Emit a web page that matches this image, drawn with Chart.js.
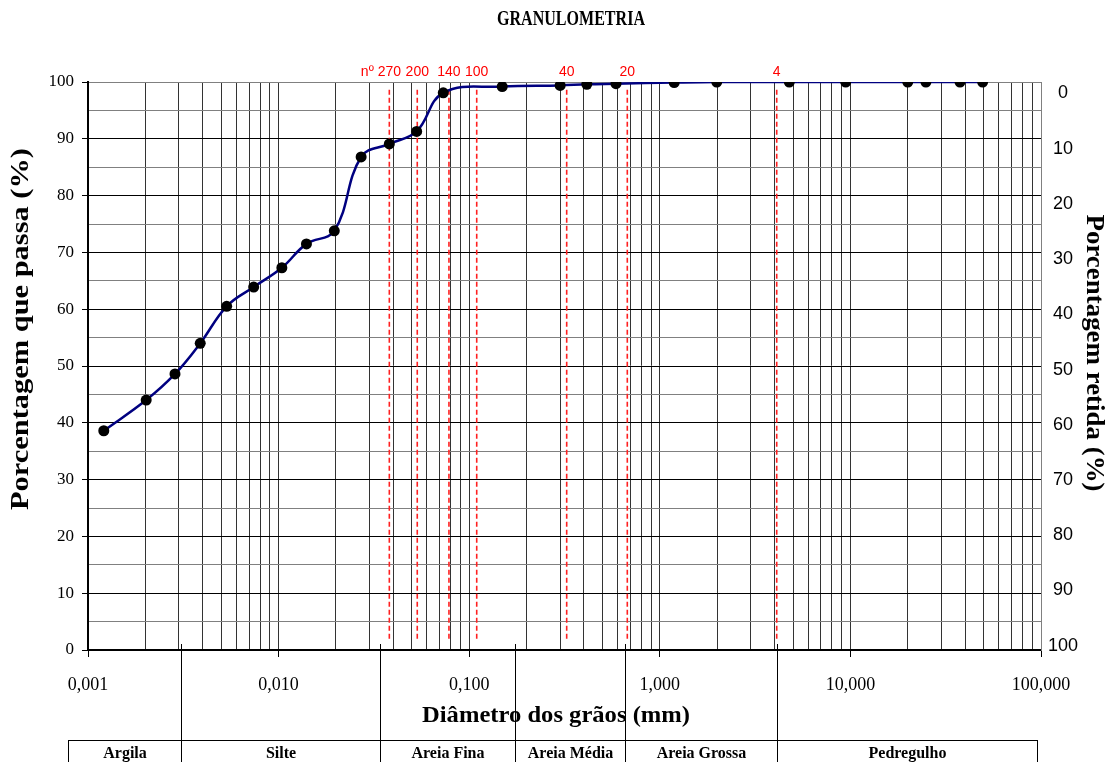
<!DOCTYPE html>
<html>
<head>
<meta charset="utf-8">
<title>Granulometria</title>
<script src="https://cdn.jsdelivr.net/npm/chart.js@4"></script>
<style>
  body { margin: 0; background: #fff; }
  canvas { display: block; }
</style>
</head>
<body>
<canvas id="chart" width="1110" height="762"></canvas>
<script>
// curva granulométrica (diâmetro em mm x % que passa)
const diametros = [0.00121, 0.00202, 0.00286, 0.00388, 0.00534, 0.0074, 0.0104, 0.0140, 0.0196,
  0.0271, 0.0381, 0.0530, 0.0731, 0.149, 0.300, 0.414, 0.589, 1.19, 1.99, 4.78, 9.45, 20.0, 24.9, 37.6, 49.4];
const passante = [38.6, 44.0, 48.6, 54.0, 60.5, 63.9, 67.3, 71.5, 73.8,
  86.8, 89.1, 91.3, 98.1, 99.2, 99.4, 99.6, 99.7, 99.9, 100, 100, 100, 100, 100, 100, 100];

// peneiras (linhas tracejadas)
const peneiras = ['nº 270', '200', '140', '100', '40', '20', '4'];
const aberturas = [0.0381, 0.0534, 0.0783, 0.1095, 0.3247, 0.6753, 4.106];

// faixas de classificação
const fracoes = ['Argila', 'Silte', 'Areia Fina', 'Areia Média', 'Areia Grossa', 'Pedregulho'];
const limitesFracoes = [0.00079, 0.00308, 0.0340, 0.174, 0.657, 4.12, 95.3];

const decadas = [0.001, 0.01, 0.1, 1, 10, 100];
const retidaTicks = [0, 10, 20, 30, 40, 50, 60, 70, 80, 90, 100];

const SERIF = '"Liberation Serif", "Times New Roman", serif';
const SANS = '"Liberation Sans", Arial, sans-serif';

// marcas do eixo x: 1..9 de cada década
const marcasX = [];
decadas.slice(0, -1).forEach(d => {
  for (let m = 1; m <= 9; m++) marcasX.push(+(m * d).toPrecision(3));
});
marcasX.push(100);

const ehDecada = v => Math.abs(Math.log10(v) - Math.round(Math.log10(v))) < 1e-9;
const fmt = v => v.toFixed(3).replace('.', ',');

function texto(ctx, str, x, y, font, comprimento, rot) {
  ctx.save();
  ctx.font = font;
  ctx.translate(x, y);
  ctx.rotate(rot || 0);
  if (comprimento) ctx.scale(comprimento / ctx.measureText(str).width, 1);
  ctx.textAlign = 'center';
  ctx.textBaseline = 'middle';
  ctx.fillStyle = '#000';
  ctx.fillText(str, 0, 0);
  ctx.restore();
}

const extras = {
  id: 'extras',
  beforeDraw(chart) {
    const ctx = chart.ctx;
    ctx.save();
    ctx.fillStyle = '#fff';
    ctx.fillRect(0, 0, chart.width, chart.height);
    ctx.restore();
  },
  afterDraw(chart) {
    const ctx = chart.ctx;
    const x = chart.scales.x;

    // rótulos das peneiras
    ctx.save();
    ctx.font = '14px ' + SANS;
    ctx.fillStyle = '#ff0000';
    ctx.textAlign = 'right';
    ctx.textBaseline = 'middle';
    peneiras.forEach((p, i) => {
      const num = p.split(' ').pop();
      const px = x.getPixelForValue(aberturas[i]) + ctx.measureText(num).width / 2;
      ctx.fillText(p, px, 72);
    });
    ctx.restore();

    // títulos
    texto(ctx, 'GRANULOMETRIA', 571, 19, 'bold 22px ' + SERIF, 148);
    texto(ctx, 'Diâmetro dos grãos (mm)', 556, 716, 'bold 24px ' + SERIF, 268);
    texto(ctx, 'Porcentagem que passa (%)', 21, 329, 'bold 26px ' + SERIF, 362, -Math.PI / 2);
    texto(ctx, 'Porcentagem retida (%)', 1093, 353, 'bold 25px ' + SERIF, 277, Math.PI / 2);

    // tabela de frações
    const px = limitesFracoes.map(v => Math.round(x.getPixelForValue(v)) + 0.5);
    fracoes.forEach((f, i) => {
      texto(ctx, f, (px[i] + px[i + 1]) / 2, 754, 'bold 16px ' + SERIF);
    });
    ctx.save();
    ctx.strokeStyle = '#000';
    ctx.lineWidth = 1;
    ctx.beginPath();
    ctx.moveTo(px[0], 740.5);
    ctx.lineTo(px[px.length - 1], 740.5);
    px.forEach((p, i) => {
      const interno = i > 0 && i < px.length - 1;
      ctx.moveTo(p, interno ? 644 : 740);
      ctx.lineTo(p, 762);
    });
    ctx.stroke();
    ctx.restore();
  }
};

const ctx = document.querySelector('#chart').getContext('2d');

new Chart(ctx, {
  type: 'line',
  data: {
    datasets: [{
      data: diametros.map((d, i) => ({ x: d, y: passante[i] })),
      borderColor: '#000080',
      borderWidth: 2.5,
      tension: 0.4,
      pointRadius: 5.5,
      pointBackgroundColor: '#000',
      pointBorderColor: '#000',
      pointBorderWidth: 0
    }].concat(aberturas.map(a => ({
      data: [{ x: a, y: 2 }, { x: a, y: 99 }],
      borderColor: '#ff2020',
      borderWidth: 1.6,
      borderDash: [5, 3],
      pointRadius: 0,
      tension: 0
    })))
  },
  options: {
    responsive: false,
    devicePixelRatio: 1,
    animation: false,
    layout: { padding: { top: 82, left: 0, right: 0, bottom: 0 } },
    plugins: {
      legend: { display: false },
      title: { display: false },
      tooltip: { enabled: false }
    },
    scales: {
      x: {
        type: 'logarithmic',
        min: 0.001,
        max: 100,
        afterBuildTicks: s => { s.ticks = marcasX.map(v => ({ value: v })); },
        afterFit: s => { s.height = 112; },
        ticks: {
          autoSkip: false,
          maxRotation: 0,
          minRotation: 0,
          padding: 17,
          color: '#000',
          font: { family: SERIF, size: 18 },
          callback: v => ehDecada(v) ? fmt(v) : ''
        },
        grid: {
          color: c => c.tick && c.tick.value === 100 ? '#808080' : '#333',
          tickLength: 7,
          tickColor: c => c.tick && ehDecada(c.tick.value) ? '#000' : 'rgba(0,0,0,0)'
        },
        border: { color: '#000', width: 2 }
      },
      y: {
        position: 'left',
        min: 0,
        max: 100,
        afterFit: s => { s.width = 88; },
        ticks: {
          stepSize: 5,
          padding: 8,
          color: '#000',
          font: { family: SERIF, size: 17 },
          callback: v => v % 10 === 0 ? String(v) : ''
        },
        grid: {
          color: c => c.tick && c.tick.value % 10 === 0 && c.tick.value !== 100 ? '#000' : '#808080',
          tickLength: 6,
          tickColor: c => c.tick && c.tick.value % 10 === 0 ? '#000' : 'rgba(0,0,0,0)'
        },
        border: { color: '#000', width: 2 }
      },
      y2: {
        position: 'right',
        reverse: true,
        min: -2.06,
        max: 100.78,
        afterBuildTicks: s => { s.ticks = retidaTicks.map(v => ({ value: v })); },
        afterFit: s => { s.width = 69; },
        ticks: {
          padding: 7,
          crossAlign: 'center',
          color: '#000',
          font: { family: SANS, size: 18 },
          callback: v => String(v)
        },
        grid: { display: false, drawTicks: false },
        border: { color: '#808080', width: 1 }
      }
    }
  },
  plugins: [extras]
});
</script>
</body>
</html>
